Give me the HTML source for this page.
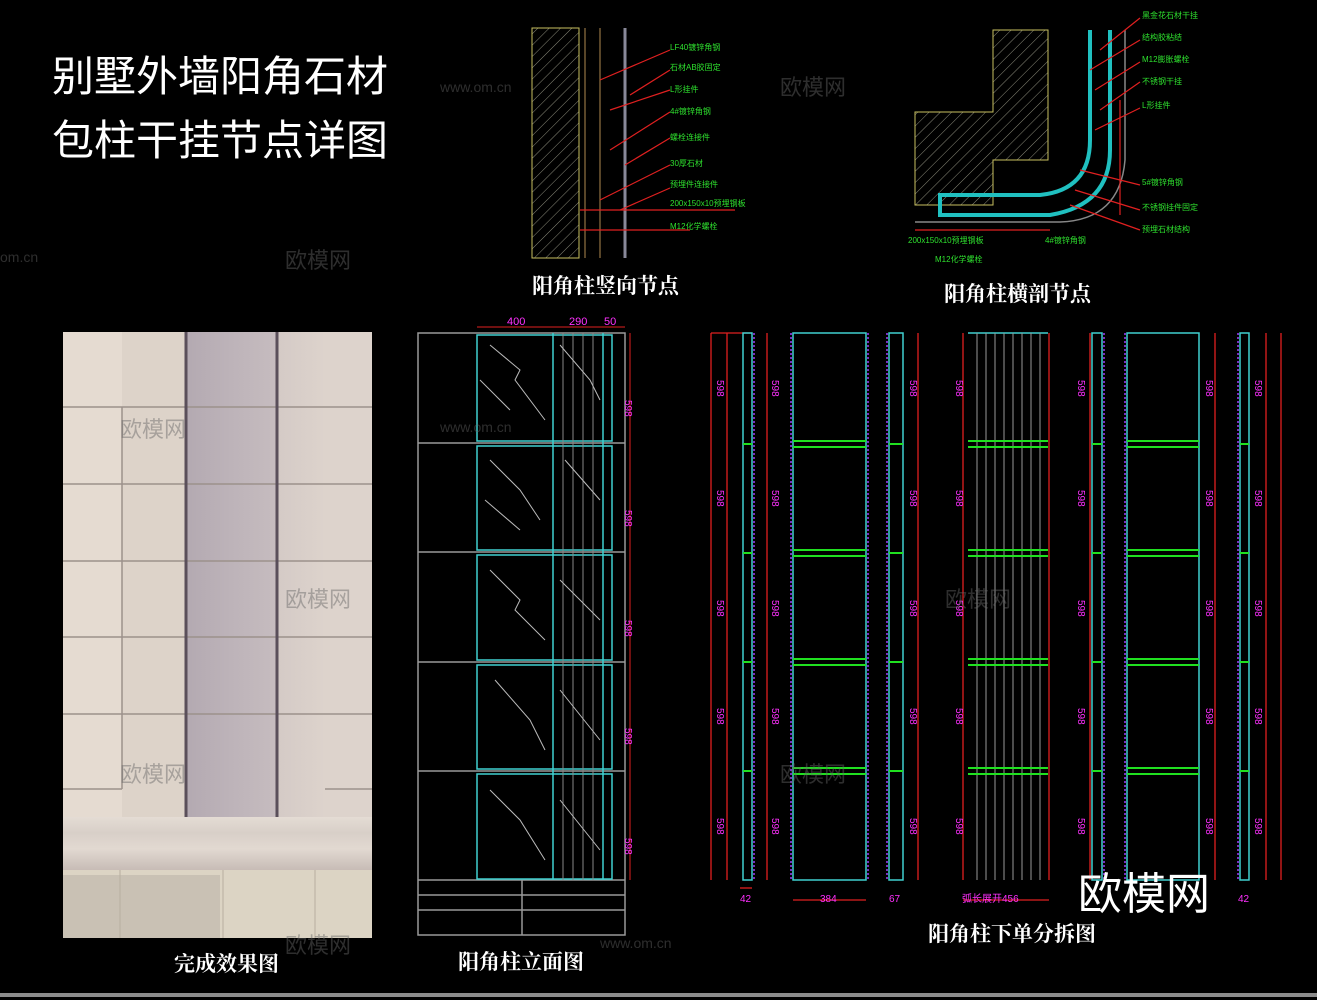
<!DOCTYPE html>
<html><head><meta charset="utf-8"><style>
html,body{margin:0;padding:0;background:#000;}
body{width:1317px;height:1000px;overflow:hidden;position:relative;font-family:"Liberation Serif","Noto Serif CJK SC",serif;}
.t{position:absolute;color:#fff;white-space:nowrap;}
</style></head><body>
<svg width="1317" height="1000" style="position:absolute;left:0;top:0" xmlns="http://www.w3.org/2000/svg">
<defs>
<linearGradient id="col" x1="0" x2="1">
<stop offset="0" stop-color="#b3a9b1"/><stop offset="0.5" stop-color="#bdb3b9"/><stop offset="1" stop-color="#c6bcbf"/></linearGradient>
<linearGradient id="rc" x1="0" x2="1">
<stop offset="0" stop-color="#d4cac6"/><stop offset="1" stop-color="#ddd3cc"/></linearGradient>
<linearGradient id="base" x1="0" y1="0" x2="0" y2="1">
<stop offset="0" stop-color="#e4dcd4"/><stop offset="0.3" stop-color="#d8cfc8"/><stop offset="0.6" stop-color="#e2d9d1"/><stop offset="1" stop-color="#c7bcb6"/></linearGradient>
<pattern id="hatch" width="8" height="8" patternUnits="userSpaceOnUse" patternTransform="rotate(45)"><line x1="0" y1="0" x2="0" y2="8" stroke="#8a8a7a" stroke-width="1"/></pattern>
</defs>
<!-- photo -->
<rect x="63" y="332" width="309" height="606" fill="#e5dbd1"/>
<rect x="122" y="332" width="63" height="485" fill="#ddd3c9"/>
<rect x="185" y="332" width="92" height="485" fill="url(#col)"/>
<rect x="277" y="332" width="48" height="485" fill="url(#rc)"/>
<rect x="325" y="332" width="47" height="485" fill="#ddd3cc"/>
<g stroke="#9c918b" stroke-width="1.5">
<line x1="63" y1="407" x2="372" y2="407"/><line x1="63" y1="484" x2="372" y2="484"/>
<line x1="63" y1="561" x2="372" y2="561"/><line x1="63" y1="637" x2="372" y2="637"/>
<line x1="63" y1="714" x2="372" y2="714"/><line x1="63" y1="789" x2="122" y2="789"/><line x1="325" y1="789" x2="372" y2="789"/>
<line x1="122" y1="407" x2="122" y2="789"/>
</g>
<g stroke="#5a4f5a" stroke-width="3">
<line x1="186" y1="332" x2="186" y2="817"/><line x1="277" y1="332" x2="277" y2="817"/>
</g>
<path d="M63 817 H372 V870 H63 Z" fill="url(#base)"/>
<path d="M63 870 H372 V938 H63 Z" fill="#dcd4c4"/>
<path d="M63 875 H220 V938 H63 Z" fill="#c9c1b4"/>
<line x1="120" y1="870" x2="120" y2="938" stroke="#b8ae9f"/><line x1="223" y1="870" x2="223" y2="938" stroke="#b8ae9f"/><line x1="315" y1="870" x2="315" y2="938" stroke="#b8ae9f"/>
<rect x="0" y="993" width="1317" height="4" fill="#8c8c8c"/>
<!-- vertical node drawing -->
<rect x="532" y="28" width="47" height="230" fill="url(#hatch)" stroke="#c8c060"/>
<g stroke="#b08a50" fill="none"><line x1="585" y1="28" x2="585" y2="258"/><line x1="600" y1="28" x2="600" y2="258"/></g>
<line x1="625" y1="28" x2="625" y2="258" stroke="#889" stroke-width="3"/>
<g stroke="#e02020" stroke-width="1.2">
<line x1="600" y1="80" x2="670" y2="50"/><line x1="630" y1="95" x2="670" y2="70"/><line x1="610" y1="110" x2="670" y2="90"/>
<line x1="610" y1="150" x2="670" y2="112"/><line x1="625" y1="165" x2="670" y2="138"/><line x1="600" y1="200" x2="670" y2="165"/>
<line x1="620" y1="210" x2="670" y2="188"/><line x1="580" y1="210" x2="735" y2="210"/><line x1="580" y1="230" x2="690" y2="230"/>
</g>
<g fill="#2ee02e" font-size="8" font-family="Liberation Sans,Noto Sans CJK SC,sans-serif">
<text x="670" y="50">LF40镀锌角钢</text><text x="670" y="70">石材AB胶固定</text><text x="670" y="92">L形挂件</text>
<text x="670" y="114">4#镀锌角钢</text><text x="670" y="140">螺栓连接件</text><text x="670" y="166">30厚石材</text>
<text x="670" y="187">预埋件连接件</text><text x="670" y="206">200x150x10预埋钢板</text><text x="670" y="229">M12化学螺栓</text>
</g>
<!-- horizontal node -->
<path d="M993 30 H1048 V160 H993 V205 H915 V112 H993 Z" fill="url(#hatch)" stroke="#c8c060"/>
<path d="M1090 30 V140 Q1090 190 1040 195 H940 V215 H1050 Q1110 205 1110 150 V30" fill="none" stroke="#20c0c0" stroke-width="4"/>
<path d="M1125 30 V160 Q1120 220 1060 222 H915" fill="none" stroke="#888" stroke-width="1.5"/>
<g stroke="#e02020" stroke-width="1.2">
<line x1="1100" y1="50" x2="1140" y2="18"/><line x1="1090" y1="70" x2="1140" y2="40"/><line x1="1095" y1="90" x2="1140" y2="62"/>
<line x1="1100" y1="110" x2="1140" y2="82"/><line x1="1095" y1="130" x2="1140" y2="108"/><line x1="1080" y1="170" x2="1140" y2="185"/>
<line x1="1075" y1="190" x2="1140" y2="210"/><line x1="1070" y1="205" x2="1140" y2="230"/>
<line x1="1120" y1="100" x2="1120" y2="215"/><line x1="915" y1="230" x2="1050" y2="230"/>
</g>
<g fill="#2ee02e" font-size="8" font-family="Liberation Sans,Noto Sans CJK SC,sans-serif">
<text x="1142" y="18">黑金花石材干挂</text><text x="1142" y="40">结构胶粘结</text><text x="1142" y="62">M12膨胀螺栓</text>
<text x="1142" y="84">不锈钢干挂</text><text x="1142" y="108">L形挂件</text><text x="1142" y="185">5#镀锌角钢</text>
<text x="1142" y="210">不锈钢挂件固定</text><text x="1142" y="232">预埋石材结构</text>
<text x="908" y="243">200x150x10预埋钢板</text><text x="935" y="262">M12化学螺栓</text><text x="1045" y="243">4#镀锌角钢</text>
</g>
<!-- elevation -->
<rect x="418" y="333" width="207" height="602" fill="none" stroke="#999" stroke-width="1.5"/>
<g stroke="#999" stroke-width="1.5">
<line x1="418" y1="443" x2="625" y2="443"/><line x1="418" y1="552" x2="625" y2="552"/><line x1="418" y1="662" x2="625" y2="662"/><line x1="418" y1="771" x2="625" y2="771"/><line x1="418" y1="880" x2="625" y2="880"/>
<line x1="418" y1="895" x2="625" y2="895"/><line x1="418" y1="910" x2="625" y2="910"/><line x1="522" y1="880" x2="522" y2="935"/>
</g>
<g fill="none" stroke="#40d0d0" stroke-width="1.5">
<rect x="477" y="335" width="135" height="106"/><rect x="477" y="446" width="135" height="104"/><rect x="477" y="555" width="135" height="105"/><rect x="477" y="665" width="135" height="104"/><rect x="477" y="774" width="135" height="105"/>
<line x1="553" y1="333" x2="553" y2="880"/><line x1="603" y1="333" x2="603" y2="880"/>
</g>
<g stroke="#888" stroke-width="1"><line x1="563" y1="333" x2="563" y2="880"/><line x1="573" y1="333" x2="573" y2="880"/><line x1="583" y1="333" x2="583" y2="880"/><line x1="593" y1="333" x2="593" y2="880"/></g>
<g stroke="#bbb" stroke-width="1" fill="none">
<path d="M490 345 L520 370 L515 380 L545 420"/><path d="M480 380 L510 410"/><path d="M560 345 L590 380 L600 400"/>
<path d="M490 460 L520 490 L540 520"/><path d="M485 500 L520 530"/><path d="M565 460 L600 500"/>
<path d="M490 570 L520 600 L515 610 L545 640"/><path d="M560 580 L600 620"/><path d="M495 680 L530 720 L545 750"/><path d="M560 690 L600 740"/>
<path d="M490 790 L520 820 L545 860"/><path d="M560 800 L600 850"/>
</g>
<line x1="630" y1="333" x2="630" y2="880" stroke="#e02020"/>
<line x1="477" y1="327" x2="625" y2="327" stroke="#e02020"/>
<g fill="#ff30ff" font-size="11" font-family="Liberation Sans,sans-serif">
<text x="507" y="325">400</text><text x="569" y="325">290</text><text x="604" y="325">50</text>
</g>
<!-- exploded strips -->
<g stroke="#e02020" stroke-width="1.3" fill="none">
<line x1="711" y1="333" x2="711" y2="880"/><line x1="727" y1="333" x2="727" y2="880"/><line x1="711" y1="333" x2="752" y2="333"/>
<line x1="767" y1="333" x2="767" y2="880"/>
<line x1="918" y1="333" x2="918" y2="880"/>
<line x1="963" y1="333" x2="963" y2="880"/><line x1="1049" y1="333" x2="1049" y2="880"/>
<line x1="1090" y1="333" x2="1090" y2="880"/>
<line x1="1215" y1="333" x2="1215" y2="880"/>
<line x1="1266" y1="333" x2="1266" y2="880"/><line x1="1281" y1="333" x2="1281" y2="880"/>
<line x1="740" y1="888" x2="752" y2="888"/><line x1="793" y1="900" x2="866" y2="900"/><line x1="963" y1="900" x2="1049" y2="900"/>
</g>
<g stroke="#40d0d0" stroke-width="1.5" fill="none">
<rect x="743" y="333" width="9" height="547"/><rect x="793" y="333" width="73" height="547"/><rect x="889" y="333" width="14" height="547"/>
<line x1="968" y1="333" x2="1048" y2="333"/><rect x="1092" y="333" width="10" height="547"/><rect x="1127" y="333" width="72" height="547"/><rect x="1240" y="333" width="9" height="547"/>
</g>
<g stroke="#a040ff" stroke-width="1.5" stroke-dasharray="2 2">
<line x1="754" y1="333" x2="754" y2="880"/><line x1="791" y1="333" x2="791" y2="880"/><line x1="868" y1="333" x2="868" y2="880"/><line x1="887" y1="333" x2="887" y2="880"/><line x1="1104" y1="333" x2="1104" y2="880"/><line x1="1125" y1="333" x2="1125" y2="880"/><line x1="1238" y1="333" x2="1238" y2="880"/>
</g>
<g stroke="#999" stroke-width="1">
<line x1="977" y1="333" x2="977" y2="880"/><line x1="986" y1="333" x2="986" y2="880"/><line x1="995" y1="333" x2="995" y2="880"/><line x1="1004" y1="333" x2="1004" y2="880"/><line x1="1013" y1="333" x2="1013" y2="880"/><line x1="1022" y1="333" x2="1022" y2="880"/><line x1="1031" y1="333" x2="1031" y2="880"/><line x1="1040" y1="333" x2="1040" y2="880"/>
</g>
<g stroke="#20e020" stroke-width="2">
<line x1="793" y1="441" x2="866" y2="441"/><line x1="793" y1="447" x2="866" y2="447"/><line x1="968" y1="441" x2="1048" y2="441"/><line x1="968" y1="447" x2="1048" y2="447"/><line x1="1127" y1="441" x2="1199" y2="441"/><line x1="1127" y1="447" x2="1199" y2="447"/>
<line x1="793" y1="550" x2="866" y2="550"/><line x1="793" y1="556" x2="866" y2="556"/><line x1="968" y1="550" x2="1048" y2="550"/><line x1="968" y1="556" x2="1048" y2="556"/><line x1="1127" y1="550" x2="1199" y2="550"/><line x1="1127" y1="556" x2="1199" y2="556"/>
<line x1="793" y1="659" x2="866" y2="659"/><line x1="793" y1="665" x2="866" y2="665"/><line x1="968" y1="659" x2="1048" y2="659"/><line x1="968" y1="665" x2="1048" y2="665"/><line x1="1127" y1="659" x2="1199" y2="659"/><line x1="1127" y1="665" x2="1199" y2="665"/>
<line x1="793" y1="768" x2="866" y2="768"/><line x1="793" y1="774" x2="866" y2="774"/><line x1="968" y1="768" x2="1048" y2="768"/><line x1="968" y1="774" x2="1048" y2="774"/><line x1="1127" y1="768" x2="1199" y2="768"/><line x1="1127" y1="774" x2="1199" y2="774"/>
<line x1="743" y1="444" x2="752" y2="444"/><line x1="889" y1="444" x2="903" y2="444"/><line x1="1092" y1="444" x2="1102" y2="444"/><line x1="1240" y1="444" x2="1249" y2="444"/>
<line x1="743" y1="553" x2="752" y2="553"/><line x1="889" y1="553" x2="903" y2="553"/><line x1="1092" y1="553" x2="1102" y2="553"/><line x1="1240" y1="553" x2="1249" y2="553"/>
<line x1="743" y1="662" x2="752" y2="662"/><line x1="889" y1="662" x2="903" y2="662"/><line x1="1092" y1="662" x2="1102" y2="662"/><line x1="1240" y1="662" x2="1249" y2="662"/>
<line x1="743" y1="771" x2="752" y2="771"/><line x1="889" y1="771" x2="903" y2="771"/><line x1="1092" y1="771" x2="1102" y2="771"/><line x1="1240" y1="771" x2="1249" y2="771"/>
</g>
<g fill="#ff30ff" font-size="10" font-family="Liberation Sans,sans-serif">
<g transform="translate(625,400) rotate(90)"><text>598</text></g><g transform="translate(625,510) rotate(90)"><text>598</text></g><g transform="translate(625,620) rotate(90)"><text>598</text></g><g transform="translate(625,728) rotate(90)"><text>598</text></g><g transform="translate(625,838) rotate(90)"><text>598</text></g>
<g transform="translate(717,380) rotate(90)"><text>598</text></g><g transform="translate(717,490) rotate(90)"><text>598</text></g><g transform="translate(717,600) rotate(90)"><text>598</text></g><g transform="translate(717,708) rotate(90)"><text>598</text></g><g transform="translate(717,818) rotate(90)"><text>598</text></g>
<g transform="translate(772,380) rotate(90)"><text>598</text></g><g transform="translate(772,490) rotate(90)"><text>598</text></g><g transform="translate(772,600) rotate(90)"><text>598</text></g><g transform="translate(772,708) rotate(90)"><text>598</text></g><g transform="translate(772,818) rotate(90)"><text>598</text></g>
<g transform="translate(910,380) rotate(90)"><text>598</text></g><g transform="translate(910,490) rotate(90)"><text>598</text></g><g transform="translate(910,600) rotate(90)"><text>598</text></g><g transform="translate(910,708) rotate(90)"><text>598</text></g><g transform="translate(910,818) rotate(90)"><text>598</text></g>
<g transform="translate(956,380) rotate(90)"><text>598</text></g><g transform="translate(956,490) rotate(90)"><text>598</text></g><g transform="translate(956,600) rotate(90)"><text>598</text></g><g transform="translate(956,708) rotate(90)"><text>598</text></g><g transform="translate(956,818) rotate(90)"><text>598</text></g>
<g transform="translate(1078,380) rotate(90)"><text>598</text></g><g transform="translate(1078,490) rotate(90)"><text>598</text></g><g transform="translate(1078,600) rotate(90)"><text>598</text></g><g transform="translate(1078,708) rotate(90)"><text>598</text></g><g transform="translate(1078,818) rotate(90)"><text>598</text></g>
<g transform="translate(1206,380) rotate(90)"><text>598</text></g><g transform="translate(1206,490) rotate(90)"><text>598</text></g><g transform="translate(1206,600) rotate(90)"><text>598</text></g><g transform="translate(1206,708) rotate(90)"><text>598</text></g><g transform="translate(1206,818) rotate(90)"><text>598</text></g>
<g transform="translate(1255,380) rotate(90)"><text>598</text></g><g transform="translate(1255,490) rotate(90)"><text>598</text></g><g transform="translate(1255,600) rotate(90)"><text>598</text></g><g transform="translate(1255,708) rotate(90)"><text>598</text></g><g transform="translate(1255,818) rotate(90)"><text>598</text></g>
<text x="740" y="902">42</text><text x="820" y="902">384</text><text x="889" y="902">67</text><text x="1238" y="902">42</text>
<text x="962" y="902" font-family="Liberation Sans,Noto Sans CJK SC,sans-serif">弧长展开456</text>
</g>
<g fill="#666" font-size="22" font-family="Liberation Sans,Noto Sans CJK SC,sans-serif" opacity="0.45">
<text x="780" y="95">欧模网</text><text x="440" y="92" font-size="14">www.om.cn</text><text x="285" y="268">欧模网</text><text x="0" y="262" font-size="14">om.cn</text>
<text x="120" y="437">欧模网</text><text x="440" y="432" font-size="14">www.om.cn</text><text x="285" y="607">欧模网</text><text x="945" y="607">欧模网</text>
<text x="120" y="782">欧模网</text><text x="780" y="782">欧模网</text><text x="285" y="953">欧模网</text><text x="600" y="948" font-size="14">www.om.cn</text>
</g>
</svg>
<div class="t" style="left:52px;top:45px;font-size:42px;line-height:64px;font-family:'Liberation Sans','Noto Sans CJK SC',sans-serif;">别墅外墙阳角石材<br>包柱干挂节点详图</div>
<div class="t" style="left:532px;top:270px;font-size:21px;font-weight:bold;">阳角柱竖向节点</div>
<div class="t" style="left:944px;top:278px;font-size:21px;font-weight:bold;">阳角柱横剖节点</div>
<div class="t" style="left:174px;top:948px;font-size:21px;font-weight:bold;">完成效果图</div>
<div class="t" style="left:458px;top:946px;font-size:21px;font-weight:bold;">阳角柱立面图</div>
<div class="t" style="left:928px;top:918px;font-size:21px;font-weight:bold;">阳角柱下单分拆图</div>
<div class="t" style="left:1078px;top:858px;font-size:44px;font-family:'Liberation Sans','Noto Sans CJK SC',sans-serif;">欧模网</div>
</body></html>
